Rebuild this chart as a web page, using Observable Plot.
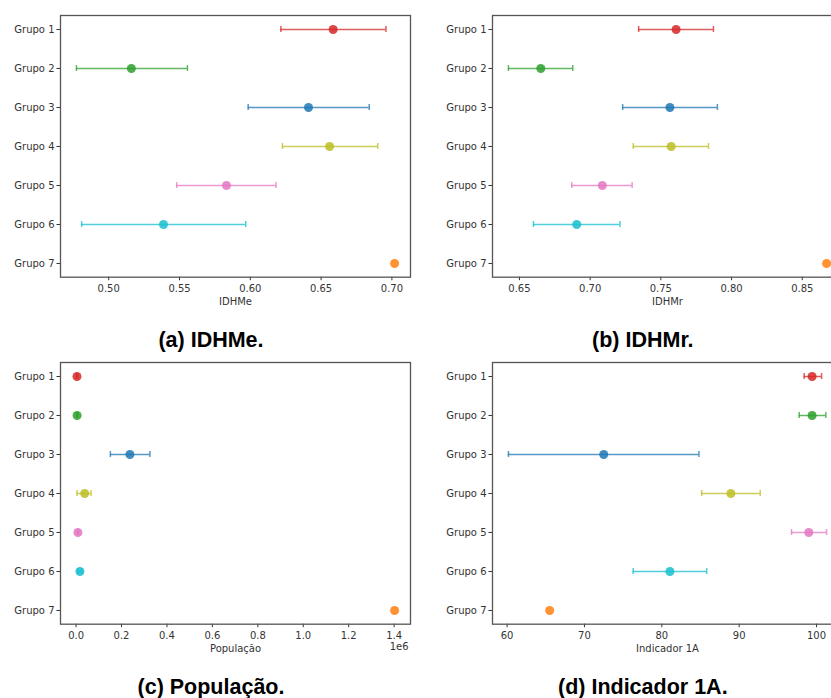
<!DOCTYPE html>
<html><head><meta charset="utf-8">
<script src="https://cdn.jsdelivr.net/npm/d3@7"></script>
<script src="https://cdn.jsdelivr.net/npm/@observablehq/plot@0.6"></script>
<style>
html,body{margin:0;padding:0;background:#fff;}
#page{position:relative;width:831px;height:698px;overflow:hidden;background:#fff;}
.panel{position:absolute;width:415px;}
.panel svg{max-width:none !important;}
.cap{position:absolute;width:300px;text-align:center;font-family:"Liberation Sans",Arial,sans-serif;font-weight:bold;font-size:21.5px;line-height:1;color:#000;white-space:nowrap;}
</style></head><body><div id="page"></div>
<script>
const groups = ["Grupo 1","Grupo 2","Grupo 3","Grupo 4","Grupo 5","Grupo 6","Grupo 7"];
const colors = ["#d62728","#2ca02c","#1f77b4","#bcbd22","#e377c2","#17becf","#ff7f0e"];

const idhmeMean = [0.6585, 0.516, 0.6411, 0.656, 0.5832, 0.5387, 0.7019];
const idhmeLow  = [0.6216, 0.4772, 0.5985, 0.6227, 0.548, 0.4809, null];
const idhmeHigh = [0.6958, 0.5556, 0.684, 0.690, 0.6182, 0.5968, null];

const idhmrMean = [0.7608, 0.6651, 0.7564, 0.7573, 0.7086, 0.6905, 0.8672];
const idhmrLow  = [0.7343, 0.6422, 0.723, 0.7305, 0.687, 0.6599, null];
const idhmrHigh = [0.7872, 0.6877, 0.79, 0.7837, 0.7297, 0.7211, null];

const popMean = [4000, 4500, 237000, 38000, 8000, 17000, 1402000];
const popLow  = [1500, 2500, 151000, 4000, 5000, 9000, null];
const popHigh = [6500, 6500, 325000, 66000, 11000, 25000, null];

const ind1aMean = [99.43, 99.43, 72.49, 88.93, 99.0, 81.05, 65.5];
const ind1aLow  = [98.4, 97.76, 60.17, 85.15, 96.77, 76.3, null];
const ind1aHigh = [100.65, 101.2, 84.8, 92.72, 101.3, 85.8, null];

const ticksA = [0.50, 0.55, 0.60, 0.65, 0.70];
const ticksB = [0.65, 0.70, 0.75, 0.80, 0.85];
const ticksC = [0, 200000, 400000, 600000, 800000, 1000000, 1200000, 1400000];
const ticksD = [60, 70, 80, 90, 100];

const labelA = "IDHMe", labelB = "IDHMr", labelC = "População", labelD = "Indicador 1A";
const offsetC = "1e6";
const captions = ["(a) IDHMe.", "(b) IDHMr.", "(c) População.", "(d) Indicador 1A."];

function panel(o) {
  const rows = groups.map((g, i) => ({group: g, color: colors[i], mean: o.mean[i], low: o.low[i], high: o.high[i]}));
  const err = rows.filter(d => d.low != null);
  const vals = rows.flatMap(d => [d.mean, d.low, d.high]).filter(v => v != null);
  const [lo, hi] = d3.extent(vals);
  const pad = (hi - lo) * 0.05;
  const lineStyle = {stroke: "color", strokeWidth: 1.5, strokeOpacity: 0.75};
  const marks = [
    Plot.ruleY(err, {y: "group", x1: "low", x2: "high", ...lineStyle}),
    Plot.tickX(err, {x: "low", y: "group", ...lineStyle, insetTop: -1, insetBottom: -1}),
    Plot.tickX(err, {x: "high", y: "group", ...lineStyle, insetTop: -1, insetBottom: -1}),
    Plot.dot(rows, {x: "mean", y: "group", fill: "color", r: 4.5, fillOpacity: 0.85}),
    Plot.frame({stroke: "#555", strokeWidth: 1.3}),
    Plot.text([o.label], {frameAnchor: "bottom", dy: 28, text: d => d, fill: "#333", fontSize: 10})
  ];
  if (o.offset) marks.push(Plot.text([o.offset], {frameAnchor: "bottom-right", textAnchor: "end", dy: 26, dx: -2, text: d => d, fill: "#333", fontSize: 10}));
  return Plot.plot({
    width: 415, height: 309.7, marginLeft: 60, marginRight: 5, marginTop: 15, marginBottom: 33,
    style: {fontFamily: "'DejaVu Sans', sans-serif", fontSize: "10px", color: "#333", background: "transparent", overflow: "visible", maxWidth: "none"},
    x: {domain: [lo - pad, hi + pad], ticks: o.ticks, tickFormat: o.fmt, tickSize: 3.5, tickPadding: 4, label: null},
    y: {type: "band", domain: groups, paddingInner: 0.9, paddingOuter: 0.267, tickSize: 3.5, tickPadding: 2.5, label: null},
    color: {type: "identity"},
    marks
  });
}

const page = document.getElementById("page");
function place(node, left, top) {
  const div = document.createElement("div");
  div.className = "panel";
  div.style.left = left + "px";
  div.style.top = top + "px";
  div.appendChild(node);
  page.appendChild(div);
}
place(panel({mean: idhmeMean, low: idhmeLow, high: idhmeHigh, ticks: ticksA, fmt: d3.format(".2f"), label: labelA}), 0, 0);
place(panel({mean: idhmrMean, low: idhmrLow, high: idhmrHigh, ticks: ticksB, fmt: d3.format(".2f"), label: labelB}), 431.7, 0);
place(panel({mean: popMean, low: popLow, high: popHigh, ticks: ticksC, fmt: d => (d / 1e6).toFixed(1), label: labelC, offset: offsetC}), 0, 347.3);
place(panel({mean: ind1aMean, low: ind1aLow, high: ind1aHigh, ticks: ticksD, fmt: d3.format("d"), label: labelD}), 431.7, 347.3);

const capPos = [[211, 330.3], [642.8, 330.3], [211, 677.3], [642.8, 677.3]];
captions.forEach((t, i) => {
  const c = document.createElement("div");
  c.className = "cap";
  c.textContent = t;
  c.style.left = (capPos[i][0] - 150) + "px";
  c.style.top = capPos[i][1] + "px";
  page.appendChild(c);
});
</script>
</body></html>
